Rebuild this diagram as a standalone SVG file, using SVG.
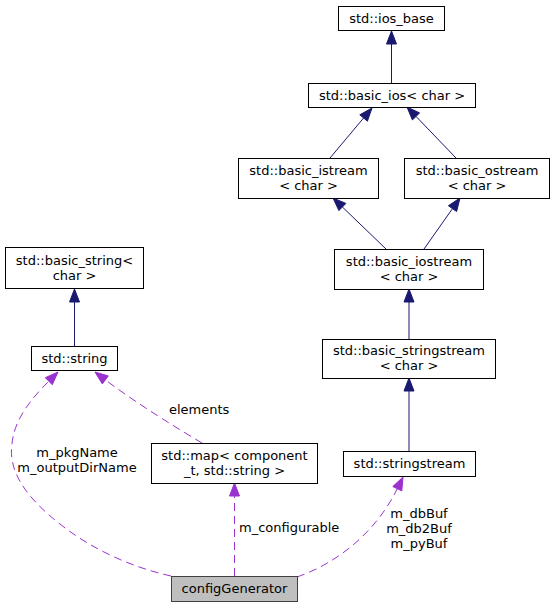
<svg xmlns="http://www.w3.org/2000/svg" width="555" height="608" viewBox="0 0 555 608">
<style>
  .node rect { fill: #ffffff; stroke: #000000; stroke-width: 1; }
  .node.main rect { fill: #bfbfbf; stroke: #404040; }
  text { font-family: "DejaVu Sans", "Liberation Sans", sans-serif; font-size: 13px; fill: #000000; }
  .c { text-anchor: middle; }
  .inh { fill: none; stroke: #191970; stroke-width: 1; }
  .inhh { fill: #191970; stroke: #191970; stroke-width: 1; }
  .use { fill: none; stroke: #9a32cd; stroke-width: 1; stroke-dasharray: 8,5; }
  .useh { fill: #9a32cd; stroke: #9a32cd; stroke-width: 1; }
</style>
<rect width="555" height="608" fill="#ffffff"/>

<g id="edges">
  <!-- inheritance -->
  <path class="inh" d="M391.5,83 L391.5,44"/>
  <polygon class="inhh" points="391.5,31 396.5,44 386.5,44"/>
  <path class="inh" d="M330,158 L363.6,118"/>
  <polygon class="inhh" points="372,108 367.4,121.2 359.8,114.8"/>
  <path class="inh" d="M456,158 L416,116.4"/>
  <polygon class="inhh" points="407,107 419.6,112.9 412.4,119.9"/>
  <path class="inh" d="M386,249 L342.4,207"/>
  <polygon class="inhh" points="333,198 345.9,203.4 338.9,210.6"/>
  <path class="inh" d="M424,249 L452.5,208.6"/>
  <polygon class="inhh" points="460,198 456.6,211.5 448.4,205.7"/>
  <path class="inh" d="M409,339 L409,302"/>
  <polygon class="inhh" points="409,289 414,302 404,302"/>
  <path class="inh" d="M409,451 L409,391"/>
  <polygon class="inhh" points="409,378 414,391 404,391"/>
  <path class="inh" d="M74.5,346 L74.5,302"/>
  <polygon class="inhh" points="74.5,289 79.5,302 69.5,302"/>

  <!-- usage -->
  <path class="use" d="M171,576 C130,567 90,548 60,524 C25,497 8,470 12,444 C14,418 34,396 48.8,381.2"/>
  <polygon class="useh" points="58,372 52.3,384.7 45.3,377.7"/>
  <text class="c" x="77" y="457">m_pkgName</text>
  <text class="c" x="77" y="472">m_outputDirName</text>

  <path class="use" d="M202,443 C170,424 135,402 105.3,379.9"/>
  <polygon class="useh" points="95,372 102.3,383.9 108.3,375.9"/>
  <text x="169" y="414">elements</text>

  <path class="use" d="M234.5,576 L234.5,496"/>
  <polygon class="useh" points="234.5,483 239.5,496 229.5,496"/>
  <text x="239" y="532">m_configurable</text>

  <path class="use" d="M297,577 C340,562 377,530 397.3,488.7"/>
  <polygon class="useh" points="403,477 401.8,490.9 392.8,486.5"/>
  <text class="c" x="419" y="518">m_dbBuf</text>
  <text class="c" x="419" y="533">m_db2Buf</text>
  <text class="c" x="419" y="548">m_pyBuf</text>
</g>

<g id="node-ios_base" class="node">
  <rect x="338.5" y="6.5" width="106" height="24"/>
  <text class="c" x="391.5" y="23">std::ios_base</text>
</g>
<g id="node-basic_ios" class="node">
  <rect x="308.5" y="83.5" width="167" height="24"/>
  <text class="c" x="392" y="100">std::basic_ios&lt; char &gt;</text>
</g>
<g id="node-basic_istream" class="node">
  <rect x="238.5" y="158.5" width="140" height="40"/>
  <text class="c" x="308.5" y="174.5">std::basic_istream</text>
  <text class="c" x="308.5" y="189.5">&lt; char &gt;</text>
</g>
<g id="node-basic_ostream" class="node">
  <rect x="404.5" y="158.5" width="145" height="40"/>
  <text class="c" x="477" y="174.5">std::basic_ostream</text>
  <text class="c" x="477" y="189.5">&lt; char &gt;</text>
</g>
<g id="node-basic_iostream" class="node">
  <rect x="334.5" y="249.5" width="149" height="40"/>
  <text class="c" x="409" y="265.5">std::basic_iostream</text>
  <text class="c" x="409" y="280.5">&lt; char &gt;</text>
</g>
<g id="node-basic_stringstream" class="node">
  <rect x="322.5" y="339.5" width="173" height="39"/>
  <text class="c" x="409" y="355">std::basic_stringstream</text>
  <text class="c" x="409" y="370">&lt; char &gt;</text>
</g>
<g id="node-stringstream" class="node">
  <rect x="343.5" y="451.5" width="132" height="25"/>
  <text class="c" x="409.5" y="468">std::stringstream</text>
</g>
<g id="node-basic_string" class="node">
  <rect x="5.5" y="247.5" width="138" height="41"/>
  <text class="c" x="74.5" y="264.5">std::basic_string&lt;</text>
  <text class="c" x="74.5" y="279.5">char &gt;</text>
</g>
<g id="node-string" class="node">
  <rect x="31.5" y="346.5" width="86" height="24"/>
  <text class="c" x="74.5" y="363">std::string</text>
</g>
<g id="node-map" class="node">
  <rect x="151.5" y="443.5" width="166" height="40"/>
  <text class="c" x="234.5" y="459.5">std::map&lt; component</text>
  <text class="c" x="234.5" y="474.5">_t, std::string &gt;</text>
</g>
<g id="node-configGenerator" class="node main">
  <rect x="171.5" y="576.5" width="126" height="25"/>
  <text class="c" x="234.5" y="593">configGenerator</text>
</g>
</svg>
